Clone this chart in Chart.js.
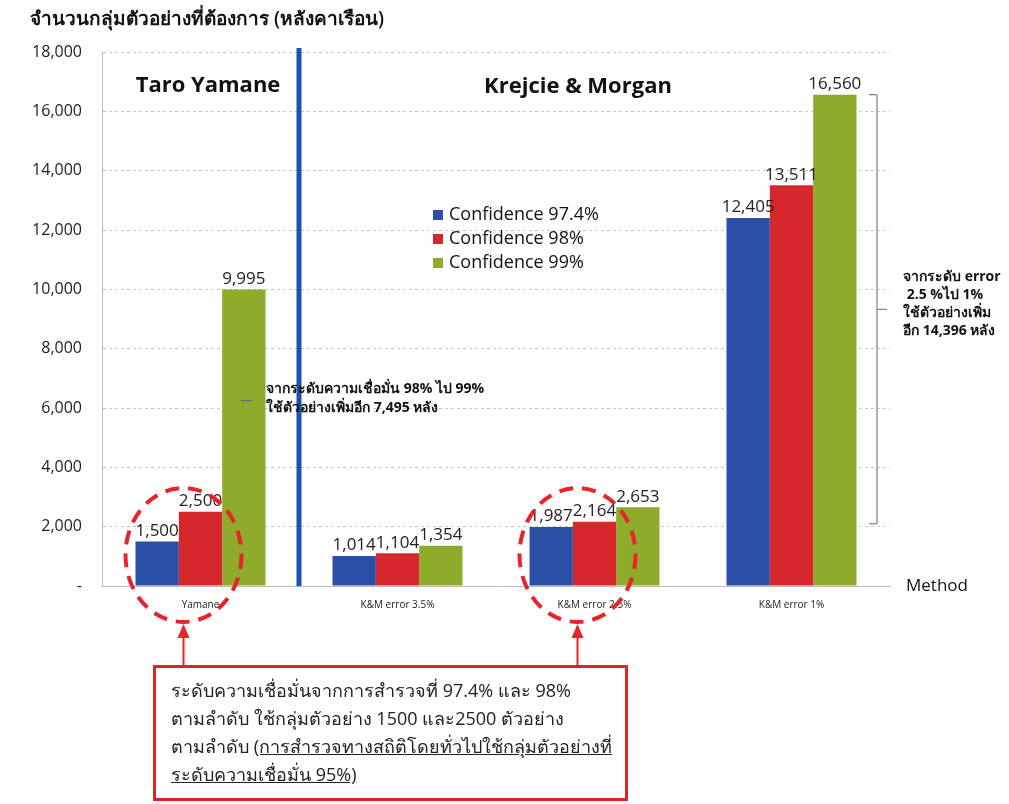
<!DOCTYPE html>
<html>
<head>
<meta charset="utf-8">
<script src="https://cdn.jsdelivr.net/npm/chart.js@4"></script>
<style>
  body { margin: 0; background: #fff; font-family: "Open Sans", "Noto Sans", sans-serif; }
  #wrap { position: relative; width: 1009px; height: 804px; overflow: hidden; }
  .note { position: absolute; font-weight: bold; font-size: 14px; line-height: 19px; color: #111; white-space: nowrap; }
  #box { position: absolute; left: 153px; top: 665px; width: 469px; height: 130px; border: 3px solid #e32222;
         box-sizing: content-box; padding: 0; font-size: 18px; line-height: 28px; color: #222; white-space: nowrap; }
  #box div { padding-left: 15px; }
</style>
</head>
<body>
<div id="wrap">
  <canvas id="mycanvas" width="1009" height="804"></canvas>
  <div class="note" style="left:266px; top:378px;">จากระดับความเชื่อมั่น 98% ไป 99%<br>ใช้ตัวอย่างเพิ่มอีก 7,495 หลัง</div>
  <div class="note" style="left:903px; top:267px; line-height:18px;">จากระดับ error<br>&nbsp;2.5 %ไป 1%<br>ใช้ตัวอย่างเพิ่ม<br>อีก 14,396 หลัง</div>
  <div id="box">
    <div style="margin-top:8px">ระดับความเชื่อมั่นจากการสำรวจที่ 97.4% และ 98%</div>
    <div>ตามลำดับ ใช้กลุ่มตัวอย่าง 1500 และ2500 ตัวอย่าง</div>
    <div>ตามลำดับ <u>(การสำรวจทางสถิติโดยทั่วไปใช้กลุ่มตัวอย่างที่</u></div>
    <div><u>ระดับความเชื่อมั่น 95%)</u></div>
  </div>
</div>
<script>
var methods = ["Yamane", "K&M error 3.5%", "K&M error 2.5%", "K&M error 1%"];
var seriesNames = ["Confidence 97.4%", "Confidence 98%", "Confidence 99%"];
var conf974 = [1500, 1014, 1987, 12405];
var conf98 = [2500, 1104, 2164, 13511];
var conf99 = [9995, 1354, 2653, 16560];
var yTicks = [0, 2000, 4000, 6000, 8000, 10000, 12000, 14000, 16000, 18000];
var colors = ["#2b4fa6", "#d6282c", "#8fab2c"];

function fmt(v) {
  return v === 0 ? "-" : v.toLocaleString("en-US");
}

// extra drawing: labels, divider, legend, bracket, circles, arrows
var extras = {
  id: "extras",
  afterDatasetsDraw: function(chart) {
    var ctx = chart.ctx;
    var x = chart.scales.x, y = chart.scales.y;
    var area = chart.chartArea;
    ctx.save();

    // value labels
    ctx.font = "17px 'Open Sans', sans-serif";
    ctx.fillStyle = "#222";
    ctx.textAlign = "center";
    ctx.textBaseline = "bottom";
    chart.data.datasets.forEach(function(ds, i) {
      chart.getDatasetMeta(i).data.forEach(function(bar, j) {
        ctx.fillText(fmt(ds.data[j]), bar.x, bar.y - 2);
      });
    });

    // divider between Yamane and K&M
    var divX = (x.getPixelForValue(0) + x.getPixelForValue(1)) / 2;
    ctx.strokeStyle = "#1f4fb0";
    ctx.lineWidth = 5;
    ctx.beginPath();
    ctx.moveTo(divX, area.top - 4);
    ctx.lineTo(divX, area.bottom);
    ctx.stroke();

    // small tick inside the Yamane 99% bar
    ctx.strokeStyle = "#4a6a9a";
    ctx.lineWidth = 1;
    ctx.beginPath();
    ctx.moveTo(241, y.getPixelForValue(6250));
    ctx.lineTo(252, y.getPixelForValue(6250));
    ctx.stroke();

    // titles
    ctx.fillStyle = "#111";
    ctx.font = "bold 22px 'Open Sans', sans-serif";
    ctx.textBaseline = "middle";
    ctx.fillText("Taro Yamane", 208, 86);
    ctx.fillText("Krejcie & Morgan", 578, 87);
    ctx.textAlign = "left";
    ctx.font = "600 19px 'Open Sans', sans-serif";
    ctx.fillText("จำนวนกลุ่มตัวอย่างที่ต้องการ (หลังคาเรือน)", 30, 20);
    ctx.font = "17px 'Open Sans', sans-serif";
    ctx.fillText("Method", 906, 586);

    // legend
    ctx.font = "18px 'Open Sans', sans-serif";
    seriesNames.forEach(function(n, i) {
      var ly = 215 + i * 24;
      ctx.fillStyle = colors[i];
      ctx.fillRect(433, ly - 5, 10, 10);
      ctx.fillStyle = "#111";
      ctx.fillText(n, 449, ly);
    });

    // bracket on the right
    var bx = 877;
    var top = y.getPixelForValue(conf99[3]);
    var bot = y.getPixelForValue(conf98[2]) + 2;
    ctx.strokeStyle = "#666";
    ctx.lineWidth = 1;
    ctx.beginPath();
    ctx.moveTo(bx - 8, top); ctx.lineTo(bx, top); ctx.lineTo(bx, bot); ctx.lineTo(bx - 8, bot);
    ctx.moveTo(bx, (top + bot) / 2); ctx.lineTo(bx + 10, (top + bot) / 2);
    ctx.stroke();

    // red dashed circles and arrows
    ctx.strokeStyle = "#e8232a";
    ctx.fillStyle = "#e8232a";
    [0, 2].forEach(function(c) {
      var cx = x.getPixelForValue(c) - 17;
      var cy = area.bottom - 31;
      ctx.lineWidth = 4;
      ctx.setLineDash([14, 9]);
      ctx.beginPath();
      ctx.ellipse(cx, cy, 58, 67, 0, 0, Math.PI * 2);
      ctx.stroke();
      ctx.setLineDash([]);
      ctx.lineWidth = 2;
      ctx.beginPath();
      ctx.moveTo(cx, 636); ctx.lineTo(cx, 666);
      ctx.stroke();
      ctx.beginPath();
      ctx.moveTo(cx, 624); ctx.lineTo(cx - 6, 638); ctx.lineTo(cx + 6, 638);
      ctx.closePath();
      ctx.fill();
    });
    ctx.restore();
  }
};

var ctx = document.getElementById("mycanvas");
var barGraph = new Chart(ctx, {
  type: "bar",
  data: {
    labels: methods,
    datasets: [
      { label: seriesNames[0], data: conf974, backgroundColor: colors[0] },
      { label: seriesNames[1], data: conf98, backgroundColor: colors[1] },
      { label: seriesNames[2], data: conf99, backgroundColor: colors[2] }
    ]
  },
  options: {
    responsive: false,
    animation: false,
    layout: { padding: { left: 0, top: 52, right: 119, bottom: 188 } },
    plugins: { legend: { display: false }, tooltip: { enabled: false } },
    datasets: { bar: { categoryPercentage: 0.66, barPercentage: 1 } },
    scales: {
      x: {
        afterFit: function(s) { s.height = 30; },
        grid: { display: false },
        border: { color: "#bbb", dash: [3, 3] },
        ticks: { color: "#222", font: { size: 10, family: "'Open Sans', sans-serif" }, padding: 5 }
      },
      y: {
        min: 0, max: 18000,
        afterFit: function(s) { s.width = 102; },
        afterBuildTicks: function(s) { s.ticks = yTicks.map(function(v) { return { value: v }; }); },
        grid: { color: "#c8c8c8", drawTicks: false },
        border: { color: "#bbb", dash: [3, 3] },
        ticks: {
          color: "#222", padding: 20,
          font: { size: 16, family: "'Open Sans', sans-serif" },
          callback: function(v) { return fmt(v); }
        }
      }
    }
  },
  plugins: [extras]
});
</script>
</body>
</html>
